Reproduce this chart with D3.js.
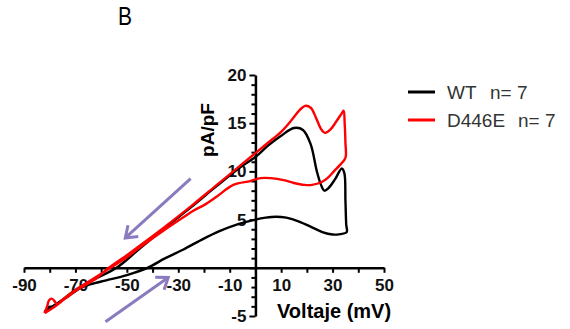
<!DOCTYPE html>
<html>
<head>
<meta charset="utf-8">
<script src="https://cdn.jsdelivr.net/npm/d3@7"></script>
<style>
  body { margin: 0; background: #fff; }
  text { font-family: "Liberation Sans", Arial, sans-serif; }
</style>
</head>
<body>
<div id="chart"></div>
<script>
// traces: [mV, pA/pF], ramp goes up then back down
const wtTrace = [
  [-82, -4.6], [-80, -4.2], [-76, -3.5], [-70, -2.3], [-62, -1.1], [-54, 0],
  [-45, 2.0], [-35, 4.2], [-25, 6.3], [-15, 8.5], [-5, 10.6], [0, 11.5],
  [5, 12.7], [10, 13.7], [15, 14.5], [18.5, 14.3], [21.5, 12.8], [23.8, 10.1],
  [25.5, 8.6], [26.8, 8.0], [28.5, 8.3], [31, 9.2], [33.6, 10.3], [34.6, 9.8],
  [35, 7], [35.3, 4.5], [35.5, 3.7],
  [33, 3.5], [30, 3.45], [26, 3.7], [22, 4.2], [17, 4.8], [12, 5.2], [8, 5.3],
  [4, 5.2], [0, 5.0], [-7, 4.5], [-14, 3.8], [-21, 2.9], [-28, 1.9], [-35, 1.0],
  [-42, 0], [-50, -0.75], [-58, -1.3], [-64, -1.7], [-68, -2.1], [-72, -2.8],
  [-77, -3.7], [-79, -4.0], [-80.5, -4.1], [-82, -4.6]
];
const d446eTrace = [
  [-82, -4.7], [-79, -4.2], [-74, -3.2], [-69.5, -2.3], [-63, -1.3], [-57, 0],
  [-50, 1.3], [-45, 2.3], [-35, 4.3], [-25, 6.4], [-15, 8.6], [-5, 10.8],
  [0, 11.9], [5, 13.0], [10, 14.1], [14, 15.3], [17, 16.3], [19.3, 16.8],
  [21.5, 16.6], [23.5, 15.6], [25.5, 14.4], [27, 14.0], [29, 14.3], [31.5, 15.2],
  [33.5, 16.0], [34.3, 16.3], [34.7, 15], [35, 13], [35, 11.4],
  [33, 10.7], [30.5, 10.0], [28, 9.3], [25.8, 8.9], [22, 8.6], [19, 8.6],
  [15, 8.8], [11, 9.1], [6, 9.3], [2, 9.3], [-2, 9.0], [-8.6, 8.6], [-15, 7.4],
  [-20, 6.5], [-24, 5.95], [-28, 5.25], [-35, 4.0], [-45, 2.1], [-50, 1.1],
  [-57, -0.1], [-64, -1.3], [-70, -2.3], [-75, -3.3], [-77, -3.8], [-78, -3.5],
  [-79.2, -3.2], [-80.3, -3.4], [-81, -4.0], [-82, -4.7]
];
const seriesNames = ["WT", "D446E"];
const seriesN = [7, 7];
const seriesColors = ["#000000", "#ff0000"];
const xTicks = d3.range(-90, 51, 10);
const yTicks = d3.range(-5, 21, 1);
// ramp direction arrows, [from, to] in mV / pA/pF
const arrows = [
  [[-25.2, 9.25], [-50.6, 3.1]],
  [[-58.3, -5.6], [-33.9, -1.0]]
];

let width = 570;
let height = 329;

let svg = d3.select("#chart").append("svg")
  .attr("width", width)
  .attr("height", height);

let x = d3.scaleLinear().domain([-90, 50]).range([24, 384]);
let y = d3.scaleLinear().domain([-5, 20]).range([316, 75]);

svg.append("text")
  .attr("x", 118)
  .attr("y", 25)
  .attr("textLength", 14)
  .attr("lengthAdjust", "spacingAndGlyphs")
  .style("font-size", "26px")
  .text("B");

// x axis through 0
let xAxis = d3.axisBottom(x)
  .tickValues(xTicks)
  .tickSize(5)
  .tickSizeOuter(0)
  .tickPadding(6)
  .tickFormat((d) => ((d + 90) % 20 === 0 ? d : ""));
let gx = svg.append("g")
  .attr("transform", `translate(0,${y(0)})`)
  .call(xAxis);

let yAxis = d3.axisLeft(y)
  .tickValues(yTicks)
  .tickSize(4)
  .tickSizeOuter(0)
  .tickPadding(5)
  .tickFormat((d) => (d % 5 === 0 && d !== 0 ? d : ""));
let gy = svg.append("g")
  .attr("transform", `translate(${x(0)},0)`)
  .call(yAxis);
gy.selectAll(".tick line")
  .attr("x2", (d) => (d % 5 === 0 ? -6 : -4));

[gx, gy].forEach((g) => {
  g.select(".domain").attr("stroke", "#000").attr("stroke-width", 2.5);
  g.selectAll(".tick line").attr("stroke", "#000").attr("stroke-width", 2);
  g.selectAll(".tick text")
    .attr("fill", "#111")
    .style("font-size", "17px")
    .style("font-weight", "bold")
    .style("font-family", "'Liberation Sans', Arial, sans-serif");
});

svg.append("text")
  .attr("x", 277)
  .attr("y", 318)
  .style("font-size", "20px")
  .style("font-weight", "bold")
  .text("Voltaje (mV)");

svg.append("text")
  .attr("transform", "translate(214,130) rotate(-90)")
  .attr("text-anchor", "middle")
  .style("font-size", "19px")
  .style("font-weight", "bold")
  .text("pA/pF");

let line = d3.line()
  .x((d) => x(d[0]))
  .y((d) => y(d[1]))
  .curve(d3.curveCatmullRom.alpha(0.5));

[wtTrace, d446eTrace].forEach((trace, i) => {
  svg.append("path")
    .datum(trace)
    .attr("fill", "none")
    .attr("stroke", seriesColors[i])
    .attr("stroke-width", 2.4)
    .attr("stroke-linejoin", "round")
    .attr("d", line);
});

// arrows
let arrowColor = "#8a7bbf";
arrows.forEach((a) => {
  let x1 = x(a[0][0]), y1 = y(a[0][1]);
  let x2 = x(a[1][0]), y2 = y(a[1][1]);
  let ang = Math.atan2(y2 - y1, x2 - x1);
  let headLen = 13;
  let spread = Math.PI / 5;
  let pts = [
    [x2 - headLen * Math.cos(ang - spread), y2 - headLen * Math.sin(ang - spread)],
    [x2, y2],
    [x2 - headLen * Math.cos(ang + spread), y2 - headLen * Math.sin(ang + spread)]
  ];
  svg.append("line")
    .attr("x1", x1).attr("y1", y1)
    .attr("x2", x2).attr("y2", y2)
    .attr("stroke", arrowColor)
    .attr("stroke-width", 3);
  svg.append("path")
    .attr("d", d3.line()(pts))
    .attr("fill", "none")
    .attr("stroke", arrowColor)
    .attr("stroke-width", 3)
    .attr("stroke-linejoin", "miter");
});

// legend
let legend = svg.append("g");
seriesNames.forEach((name, i) => {
  let ly = 92 + i * 28;
  legend.append("line")
    .attr("x1", 408).attr("x2", 435)
    .attr("y1", ly).attr("y2", ly)
    .attr("stroke", seriesColors[i])
    .attr("stroke-width", 3);
  legend.append("text")
    .attr("x", 447)
    .attr("y", ly + 6.5)
    .attr("fill", "#333")
    .style("font-size", "19px")
    .text(name);
  legend.append("text")
    .attr("x", i === 0 ? 490 : 518)
    .attr("y", ly + 6.5)
    .attr("fill", "#333")
    .style("font-size", "19px")
    .text("n= " + seriesN[i]);
});
</script>
</body>
</html>
